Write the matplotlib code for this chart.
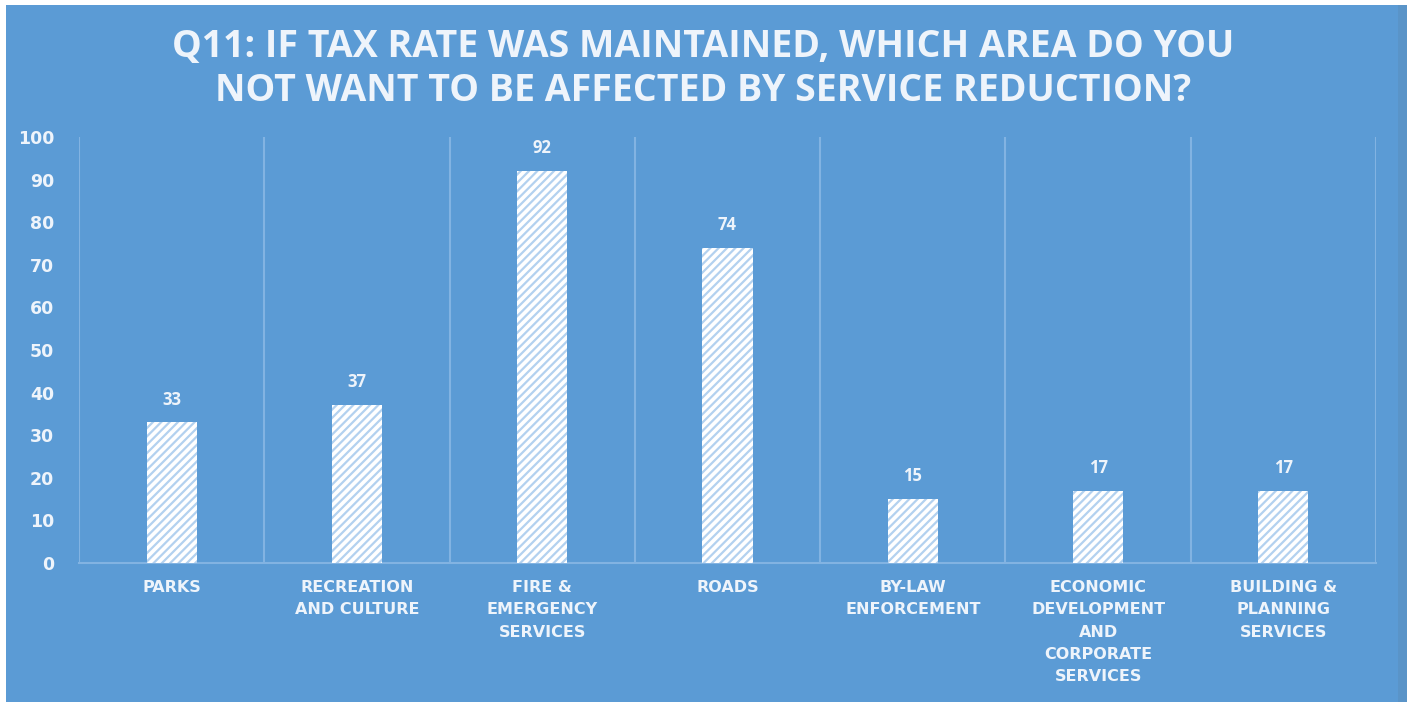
import matplotlib.pyplot as plt
from matplotlib.patches import Rectangle

categories = [
    "PARKS",
    "RECREATION\nAND CULTURE",
    "FIRE &\nEMERGENCY\nSERVICES",
    "ROADS",
    "BY-LAW\nENFORCEMENT",
    "ECONOMIC\nDEVELOPMENT\nAND\nCORPORATE\nSERVICES",
    "BUILDING &\nPLANNING\nSERVICES",
]
responses = [33, 37, 92, 74, 15, 17, 17]
y_ticks = list(range(0, 101, 10))

title = "Q11: IF TAX RATE WAS MAINTAINED, WHICH AREA DO YOU\nNOT WANT TO BE AFFECTED BY SERVICE REDUCTION?"

bg_blue = "#5b9bd5"
text_col = "#eef4fb"
grid_col = "#82b3e2"

plt.rcParams["font.family"] = ["Open Sans", "DejaVu Sans"]
plt.rcParams["hatch.linewidth"] = 1.6

fig = plt.figure(figsize=(14.07, 7.02), dpi=100, facecolor="white")
# blue chart panel with thin white margin on top and left
fig.patches.append(Rectangle((6 / 1407, 0), 1392 / 1407, 697 / 702,
                             transform=fig.transFigure, facecolor=bg_blue,
                             edgecolor="none", zorder=-2))
fig.patches.append(Rectangle((1398 / 1407, 0), 9 / 1407, 697 / 702,
                             transform=fig.transFigure, facecolor="#5a94c8",
                             edgecolor="none", zorder=-2))

ax = fig.add_axes([79 / 1407, 1 - 563 / 702, 1297 / 1407, 426 / 702])
ax.set_facecolor("none")

x = list(range(len(categories)))
bars = ax.bar(x, responses, width=0.27, facecolor="white",
              edgecolor="#b3d1ef", linewidth=0, hatch="////", zorder=3)

for rect, val in zip(bars, responses):
    ax.annotate(str(val), (rect.get_x() + rect.get_width() / 2, val),
                xytext=(0, 10), textcoords="offset points", ha="center",
                va="bottom", fontsize=12, color=text_col, fontweight="bold")

ax.set_xlim(-0.5, len(categories) - 0.5)
ax.set_ylim(0, 100)
ax.set_yticks(y_ticks)
ax.set_xticks(x)
ax.set_xticklabels(categories, fontsize=11.5, fontweight="bold",
                   color=text_col, linespacing=1.62,
                   family=["DejaVu Sans"])
ax.tick_params(axis="both", length=0, colors=text_col)
ax.tick_params(axis="y", labelsize=12.5, pad=18)
ax.tick_params(axis="x", pad=12)
for lbl in ax.get_yticklabels():
    lbl.set_fontweight("bold")
    lbl.set_family(["DejaVu Sans"])

# category boundary gridlines
for b in [i - 0.5 for i in range(len(categories) + 1)]:
    ax.axvline(b, color=grid_col, linewidth=1.5, zorder=1)

for side in ["top", "left", "right"]:
    ax.spines[side].set_visible(False)
ax.spines["bottom"].set_color(grid_col)
ax.spines["bottom"].set_linewidth(1.5)

fig.text(0.5, 0.902, title, ha="center", va="center", fontsize=27,
         fontweight="bold", color=text_col, linespacing=1.2)

fig.savefig("out.png", dpi=100, facecolor=fig.get_facecolor())
